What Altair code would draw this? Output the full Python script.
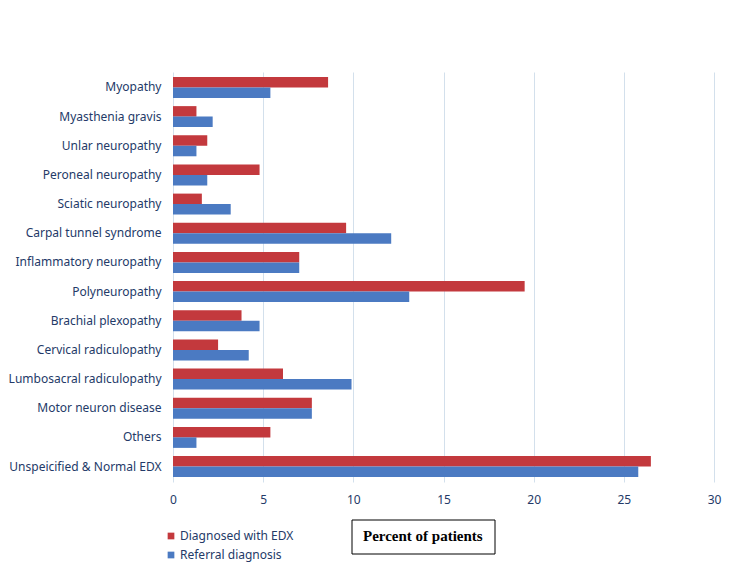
import altair as alt
import pandas as pd

categories = [
    "Myopathy", "Myasthenia gravis", "Unlar neuropathy", "Peroneal neuropathy",
    "Sciatic neuropathy", "Carpal tunnel syndrome", "Inflammatory neuropathy",
    "Polyneuropathy", "Brachial plexopathy", "Cervical radiculopathy",
    "Lumbosacral radiculopathy", "Motor neuron disease", "Others",
    "Unspeicified & Normal EDX",
]
diagnosed_edx = [8.6, 1.3, 1.9, 4.8, 1.6, 9.6, 7.0, 19.5, 3.8, 2.5, 6.1, 7.7, 5.4, 26.5]
referral = [5.4, 2.2, 1.3, 1.9, 3.2, 12.1, 7.0, 13.1, 4.8, 4.2, 9.9, 7.7, 1.3, 25.8]
series = ["Diagnosed with EDX", "Referral diagnosis"]
colors = ["#C3393D", "#4B7AC2"]
x_ticks = [0, 5, 10, 15, 20, 25, 30]

rows = []
for c, d, r in zip(categories, diagnosed_edx, referral):
    rows.append({"category": c, "series": series[0], "value": d})
    rows.append({"category": c, "series": series[1], "value": r})
df = pd.DataFrame(rows)

navy = "#243A68"
font = "Noto Sans"

bars = alt.Chart(df).mark_bar().encode(
    y=alt.Y("category:N", sort=categories,
            scale=alt.Scale(paddingInner=0.28, paddingOuter=0.17),
            axis=alt.Axis(title=None, domain=False, ticks=False, labelPadding=12,
                          labelFont=font, labelFontSize=12, labelColor=navy,
                          grid=False, labelLimit=300)),
    yOffset=alt.YOffset("series:N", sort=series),
    x=alt.X("value:Q", scale=alt.Scale(domain=[0, 30], nice=False),
            axis=alt.Axis(title=None, values=x_ticks, domain=False, ticks=False,
                          labelFont=font, labelFontSize=12, labelColor=navy,
                          labelPadding=12, labelFlush=False, grid=True,
                          gridColor="#D3E0EC", gridWidth=1)),
    color=alt.Color("series:N", sort=series,
                    scale=alt.Scale(domain=series, range=colors),
                    legend=alt.Legend(title=None, orient="none", legendX=-8, legendY=458,
                                      symbolType="square", symbolSize=45,
                                      symbolStrokeWidth=0,
                                      labelFont=font, labelFontSize=12,
                                      labelColor=navy, rowPadding=7, labelOffset=3)),
)

box = alt.Chart(pd.DataFrame({"t": ["Percent of patients"]})).mark_rect(
    fill="white", stroke="black", strokeWidth=1
).encode(x=alt.value(179), x2=alt.value(322), y=alt.value(448), y2=alt.value(482))

title_txt = alt.Chart(pd.DataFrame({"t": ["Percent of patients"]})).mark_text(
    font="Liberation Serif", fontSize=15, fontWeight="bold", color="black", align="left",
    baseline="middle"
).encode(x=alt.value(190), y=alt.value(464), text="t:N")

chart = alt.layer(bars, box, title_txt).properties(
    width=541, height=410,
    autosize=alt.AutoSizeParams(type="none"),
    padding={"left": 165, "top": 64, "right": 10, "bottom": 96},
).configure_view(stroke=None)

chart.save("out.html", embed_options={"renderer": "svg", "actions": False})
